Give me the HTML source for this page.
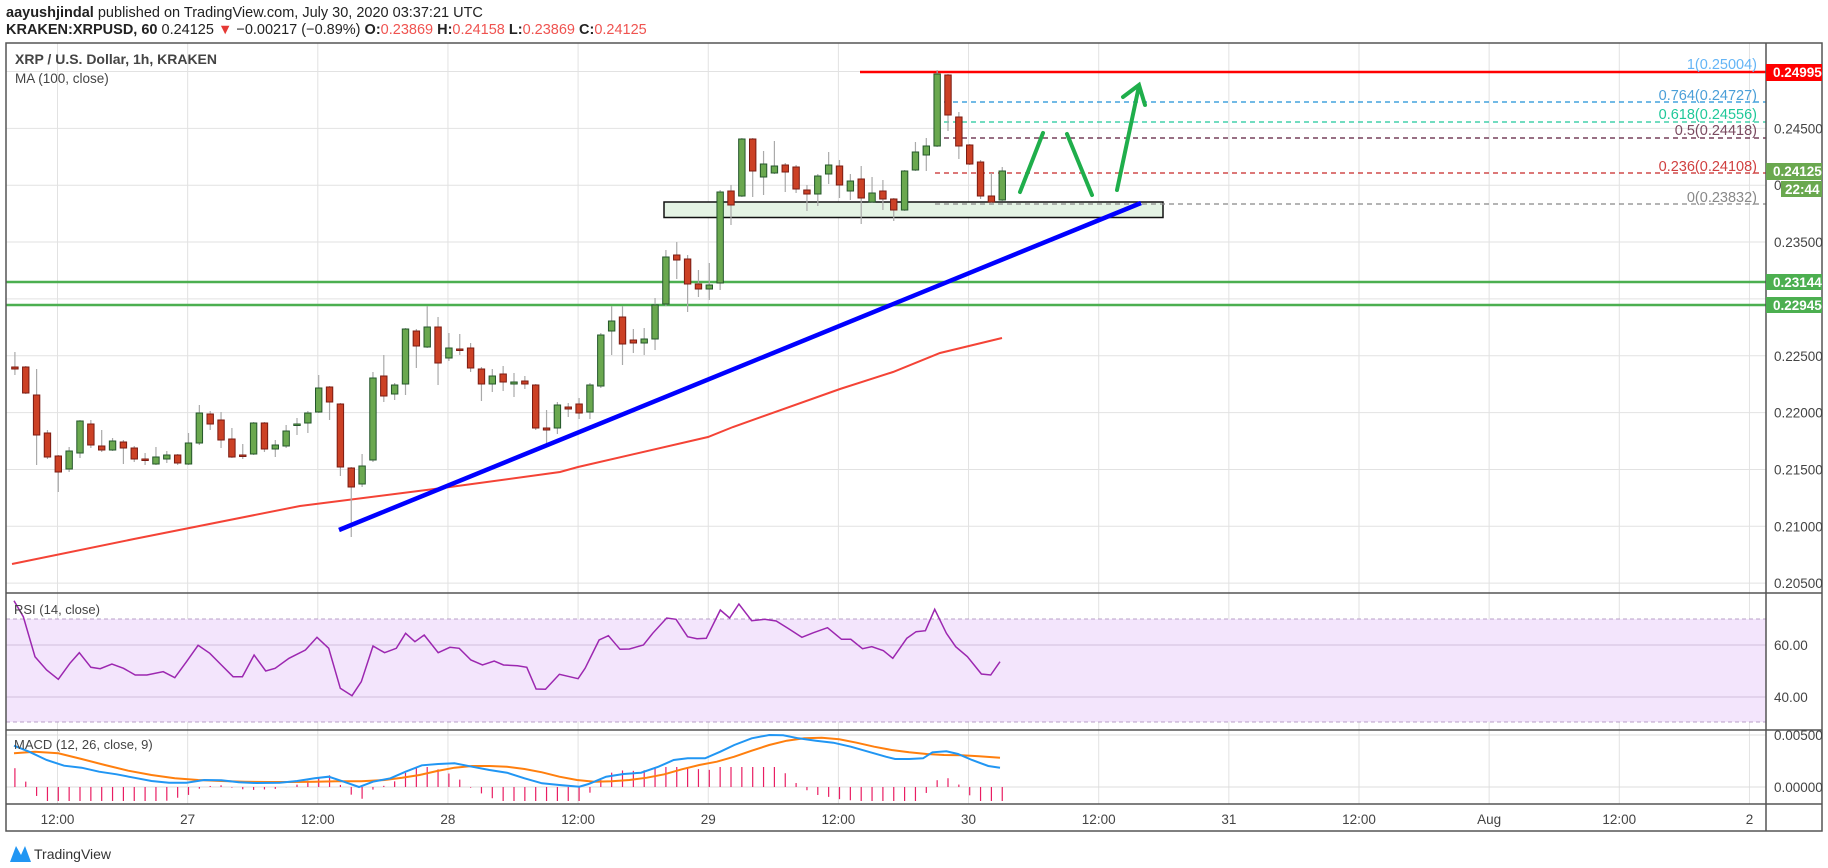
<!DOCTYPE html>
<html><head><meta charset="utf-8"><style>
html,body{margin:0;padding:0;background:#fff;width:1828px;height:868px;overflow:hidden}
svg{display:block;font-family:"Liberation Sans",Arial,sans-serif}
</style></head><body>
<svg id="s" width="1828" height="868" viewBox="0 0 1828 868" xmlns="http://www.w3.org/2000/svg">
<rect width="1828" height="868" fill="#fff"/>
<g id="grid"></g>
<rect x="6" y="619" width="1760" height="103" fill="#f3e5fc"/>
<line x1="6" y1="619" x2="1766" y2="619" stroke="#b9a0c9" stroke-dasharray="4,3"/>
<line x1="6" y1="722" x2="1766" y2="722" stroke="#b9a0c9" stroke-dasharray="4,3"/>
<line x1="6" y1="645" x2="1766" y2="645" stroke="#d2c0dc"/>
<line x1="6" y1="697" x2="1766" y2="697" stroke="#d2c0dc"/>
<line x1="6" y1="735" x2="1766" y2="735" stroke="#ddd"/>
<line x1="6" y1="787" x2="1766" y2="787" stroke="#ddd"/>
<rect x="664" y="202" width="499" height="15.5" fill="#e4f3e4" stroke="#111" stroke-width="1.5"/>
<line x1="6" y1="282" x2="1766" y2="282" stroke="#4caf50" stroke-width="2.5"/>
<line x1="6" y1="305" x2="1766" y2="305" stroke="#4caf50" stroke-width="2.5"/>
<line x1="860" y1="72" x2="1766" y2="72" stroke="#f00" stroke-width="2.5"/>
<line x1="935" y1="102" x2="1766" y2="102" stroke="#1e90d6" stroke-width="1.3" stroke-dasharray="5,4"/>
<line x1="935" y1="122" x2="1766" y2="122" stroke="#1fc89a" stroke-width="1.3" stroke-dasharray="5,4"/>
<line x1="935" y1="138" x2="1766" y2="138" stroke="#5b1a3a" stroke-width="1.3" stroke-dasharray="5,4"/>
<line x1="935" y1="173" x2="1766" y2="173" stroke="#c62828" stroke-width="1.3" stroke-dasharray="5,4"/>
<line x1="935" y1="204" x2="1766" y2="204" stroke="#888" stroke-width="1.3" stroke-dasharray="5,4"/>
<g font-size="14.5" text-anchor="end">
<text x="1757" y="69" fill="#64b5f6">1(0.25004)</text>
<text x="1757" y="100" fill="#4a9fd8">0.764(0.24727)</text>
<text x="1757" y="119" fill="#1fc89a">0.618(0.24556)</text>
<text x="1757" y="135" fill="#7a4a60">0.5(0.24418)</text>
<text x="1757" y="171" fill="#d04040">0.236(0.24108)</text>
<text x="1757" y="202" fill="#888">0(0.23832)</text>
</g>
<path id="ma" fill="none" stroke="#f44336" stroke-width="2" d="M12,564 L134,539 L300,506 L450,487 L560,472 L578,467 L708,437 L733,427 L840,389 L893,372 L940,353 L1002,338"/>
<g id="candles"></g>
<line x1="339" y1="530" x2="1141" y2="203" stroke="#0000ff" stroke-width="4.5"/>
<g stroke="#1fae4b" stroke-width="4" stroke-linecap="round" fill="none">
<line x1="1020" y1="192" x2="1043" y2="133"/>
<line x1="1067" y1="134" x2="1092" y2="195"/>
<line x1="1117" y1="190" x2="1139" y2="86"/>
<polyline points="1123,97 1139,85 1145,105"/>
</g>
<g id="ind"></g>
<g stroke="#555" stroke-width="1.5" fill="none">
<rect x="6" y="43" width="1816" height="788"/>
<line x1="6" y1="593" x2="1822" y2="593"/>
<line x1="6" y1="730" x2="1822" y2="730"/>
<line x1="6" y1="804" x2="1822" y2="804"/>
<line x1="1766" y1="43" x2="1766" y2="831"/>
</g>
<g id="axis" font-size="13.5" fill="#444"></g>
<g font-size="13.5" font-weight="bold" fill="#fff">
<rect x="1766" y="64" width="56" height="17" fill="#f00"/><text x="1773" y="77">0.24995</text>
<rect x="1766" y="163" width="56" height="17" fill="#6aa84f"/><text x="1773" y="176">0.24125</text>
<rect x="1781" y="181" width="41" height="16" fill="#6aa84f"/><text x="1785" y="194">22:44</text>
<rect x="1766" y="274" width="56" height="16" fill="#4caf50"/><text x="1773" y="287">0.23144</text>
<rect x="1766" y="297" width="56" height="16" fill="#4caf50"/><text x="1773" y="310">0.22945</text>
</g>
<text x="1774" y="190" font-size="13.5" fill="#444">0</text>
<g font-size="14.5">
<text x="6" y="17" fill="#222"><tspan font-weight="bold">aayushjindal</tspan> published on TradingView.com, July 30, 2020 03:37:21 UTC</text>
<text x="6" y="34" fill="#222"><tspan font-weight="bold">KRAKEN:XRPUSD, 60</tspan> 0.24125 <tspan fill="#e53935">▼</tspan> −0.00217 (−0.89%) <tspan font-weight="bold">O:</tspan><tspan fill="#ef5350">0.23869</tspan> <tspan font-weight="bold">H:</tspan><tspan fill="#ef5350">0.24158</tspan> <tspan font-weight="bold">L:</tspan><tspan fill="#ef5350">0.23869</tspan> <tspan font-weight="bold">C:</tspan><tspan fill="#ef5350">0.24125</tspan></text>
</g>
<text x="15" y="64" font-size="14" font-weight="bold" fill="#444">XRP / U.S. Dollar, 1h, KRAKEN</text>
<text x="15" y="83" font-size="13.5" fill="#444">MA (100, close)</text>
<text x="14" y="614" font-size="13" fill="#444">RSI (14, close)</text>
<text x="14" y="749" font-size="13" fill="#444">MACD (12, 26, close, 9)</text>
<path d="M10,862 L16,846 L21,855 L25,846 L31,862 Z" fill="#2196f3"/>
<text x="34" y="859" font-size="14" fill="#333">TradingView</text>
</svg>
<script>
var NS="http://www.w3.org/2000/svg";
function el(p,t,a){var e=document.createElementNS(NS,t);for(var k in a)e.setAttribute(k,a[k]);p.appendChild(e);return e;}
var grid=document.getElementById('grid'),axis=document.getElementById('axis');
var tl=["12:00","27","12:00","28","12:00","29","12:00","30","12:00","31","12:00","Aug","12:00","2"];
for(var k=0;k<14;k++){var x=57.5+k*130.15;el(grid,'line',{x1:x,y1:43,x2:x,y2:804,stroke:'#e2e2e2'});
 var t=el(axis,'text',{x:x,y:824,'text-anchor':'middle'});t.textContent=tl[k];}
var pr=["0.25000","0.24500","0.24000","0.23500","0.23000","0.22500","0.22000","0.21500","0.21000","0.20500"];
for(var k=0;k<10;k++){var y=71.5+k*56.85;el(grid,'line',{x1:6,y1:y,x2:1766,y2:y,stroke:'#e2e2e2'});
 if(k>=5||k==1||k==3){var t=el(axis,'text',{x:1774,y:y+5});t.textContent=pr[k];}}
[["60.00",645],["40.00",697],["0.00500",735],["0.00000",787]].forEach(function(a){var t=el(axis,'text',{x:1774,y:a[1]+5});t.textContent=a[0];});
var C=[[367,369,352,375],[367,393,366,394],[395,435,369,465],[433,457,430,459],[456,472,455,492],[469,451,447,472],[453,421,420,458],[424,445,420,448],[446,450,430,452],[450,441,438,451],[442,448,440,464],[448,459,446,462],[459,459,453,465],[464,457,447,465],[459,455,451,463],[455,463,454,465],[464,443,433,465],[443,413,405,445],[414,424,411,430],[420,440,412,448],[439,457,428,458],[455,456,444,459],[454,423,422,455],[423,449,422,452],[449,445,440,457],[446,431,425,448],[425,424,418,435],[423,413,411,433],[412,388,375,413],[387,402,386,420],[404,467,403,476],[468,487,467,537],[484,466,454,487],[460,378,372,462],[376,396,355,402],[394,385,383,400],[384,329,328,395],[331,346,329,368],[347,327,306,348],[327,363,317,385],[358,348,333,361],[349,349,334,355],[348,368,343,372],[369,384,367,401],[384,376,369,392],[374,382,366,391],[384,382,373,397],[381,384,376,389],[385,428,384,430],[428,430,410,444],[428,405,402,434],[407,409,403,417],[404,413,398,419],[412,385,383,419],[386,335,333,388],[331,321,306,355],[317,344,306,365],[340,343,329,353],[343,339,328,355],[339,305,298,350],[304,257,250,306],[255,260,242,279],[259,284,255,312],[284,289,270,297],[289,285,263,300],[283,192,190,290],[191,205,185,225],[196,139,138,197],[139,171,138,197],[177,164,151,195],[173,166,141,174],[165,172,163,192],[167,189,165,193],[190,194,185,211],[194,176,174,206],[174,165,152,184],[166,185,160,198],[191,181,174,200],[179,198,166,224],[202,193,177,203],[191,199,180,210],[199,210,198,221],[210,171,170,211],[170,152,142,171],[155,146,138,171],[146,74,70,147],[75,115,74,131],[117,146,112,159],[145,164,144,165],[162,196,160,199],[196,202,173,205],[200,171,167,201]];
var cg=document.getElementById('candles');
C.forEach(function(c,i){var x=14.9+i*10.85,g=c[1]<c[0];
 el(cg,'line',{x1:x,y1:c[2],x2:x,y2:c[3],stroke:'#aaa','stroke-width':1.2});
 var t=Math.min(c[0],c[1]),h=Math.max(Math.abs(c[1]-c[0]),1.5);
 el(cg,'rect',{x:x-3.2,y:t,width:6.4,height:h,fill:g?'#6aa84f':'#cc4125',stroke:g?'#24562b':'#7a1b12','stroke-width':1});});
var ind=document.getElementById('ind');
function conv(pts){return pts.map(function(p){return [p[0]/0.858,580+p[1]/3];});}
function pth(pts,col,w){el(ind,'path',{d:'M'+pts.map(function(p){return p[0].toFixed(1)+','+p[1].toFixed(1)}).join(' L'),fill:'none',stroke:col,'stroke-width':w});}
var rsi=[[12,62],[20,110],[30,230],[40,270],[50,298],[60,250],[68,218],[78,262],[86,266],[96,252],[106,265],[116,285],[126,285],[140,275],[150,293],[160,245],[170,196],[180,220],[190,255],[200,290],[208,290],[218,225],[228,273],[236,265],[248,235],[262,210],[272,172],[282,205],[292,325],[302,347],[310,305],[320,198],[330,218],[340,205],[348,160],[356,185],[364,165],[376,218],[386,202],[394,205],[404,240],[414,255],[424,243],[432,255],[444,257],[452,262],[460,327],[468,328],[480,283],[496,296],[502,265],[514,180],[522,167],[532,208],[540,207],[552,195],[560,160],[572,114],[580,118],[590,170],[598,176],[606,175],[618,90],[626,114],[634,72],[645,122],[656,118],[666,123],[676,145],[688,172],[698,158],[710,143],[722,178],[730,178],[740,206],[748,200],[758,212],[766,235],[778,175],[786,155],[794,152],[802,88],[812,160],[820,200],[830,230],[842,282],[850,285],[858,245]];
pth(conv(rsi),'#9c27b0',1.5);
var bl=[[12,497],[25,515],[40,540],[55,557],[70,563],[85,575],[100,583],[115,593],[130,603],[145,608],[160,608],[175,600],[190,601],[205,607],[220,609],[240,608],[255,603],[270,595],[282,590],[295,605],[308,621],[320,605],[335,595],[348,575],[362,556],[376,552],[390,550],[405,560],[420,570],[435,578],[450,595],[465,610],[480,615],[497,620],[505,612],[520,590],[535,582],[550,578],[565,560],[578,540],[590,535],[605,535],[618,515],[630,495],[645,475],[660,465],[672,466],[685,475],[700,482],[715,488],[730,500],[745,515],[760,530],[768,537],[780,537],[792,535],[800,517],[812,514],[822,522],[834,540],[848,558],[858,563]];
var or=[[12,520],[30,515],[50,520],[70,537],[90,555],[110,572],[130,585],[150,595],[170,600],[190,603],[210,605],[230,606],[250,606],[270,605],[290,604],[310,604],[330,600],[345,593],[360,585],[375,573],[390,563],[405,558],[420,558],[435,560],[450,567],[465,577],[480,590],[495,600],[510,605],[525,604],[540,600],[555,593],[570,583],[585,568],[600,555],[615,545],[630,530],[645,512],[660,495],[675,482],[690,475],[705,473],[720,478],[735,488],[750,500],[765,510],[780,517],[795,522],[810,525],[825,526],[840,529],[858,533]];
function interp(a,x){for(var i=1;i<a.length;i++){if(a[i][0]>=x){var t=(x-a[i-1][0])/(a[i][0]-a[i-1][0]);return a[i-1][1]+t*(a[i][1]-a[i-1][1]);}}return a[a.length-1][1];}
for(var i=0;i<92;i++){var xd=(14.9+i*10.85)*0.858;if(xd<12)xd=12;var d=(interp(or,xd)-interp(bl,xd))*2.6;
 d=Math.max(-42,Math.min(60,d));
 var x=xd/0.858;el(ind,'line',{x1:x,y1:787,x2:x,y2:787-d/3,stroke:'#e91e63','stroke-width':1.2});}
pth(conv(or),'#ff7f0e',2);
pth(conv(bl),'#2196f3',2);
</script>
</body></html>
